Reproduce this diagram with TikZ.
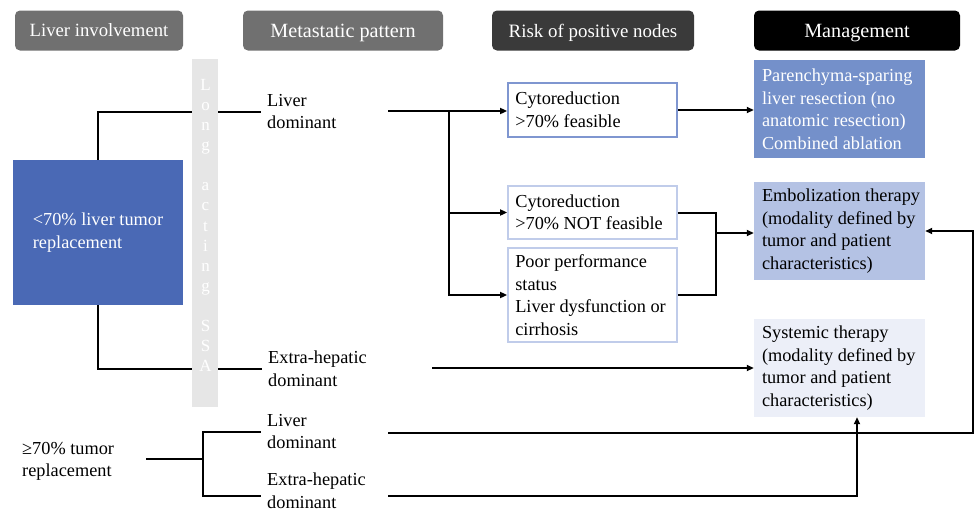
\documentclass[tikz,border=0pt]{standalone}
\usepackage{fontspec}
\setmainfont{Liberation Serif}
\usetikzlibrary{arrows.meta}
\definecolor{hgray}{HTML}{707070}
\definecolor{hdark}{HTML}{3A3A3A}
\definecolor{cblue}{HTML}{4A69B5}
\definecolor{cpar}{HTML}{7490CA}
\definecolor{cemb}{HTML}{B4C2E4}
\definecolor{csys}{HTML}{ECEFF8}
\definecolor{bordA}{HTML}{7F96D0}
\definecolor{bordB}{HTML}{C0CCEA}
\definecolor{cbar}{HTML}{E6E6E6}
\newcommand\txtfont{\fontsize{18.3}{22.5}\selectfont}
\tikzset{
  header/.style={rounded corners=5pt, text=white, minimum height=40pt, inner sep=0pt, text depth=0pt},
  plain/.style={font=\txtfont, align=left, anchor=north west, inner xsep=6pt, inner ysep=0pt},
  boxtxt/.style={font=\txtfont, align=left, anchor=west, inner xsep=0pt, inner ysep=0pt, xshift=8pt},
  riskA/.style={draw=bordA, line width=1.8pt, fill=white, minimum width=169pt, inner sep=0pt},
  riskB/.style={draw=bordB, line width=1.8pt, fill=white, minimum width=169pt, inner sep=0pt},
  mgmt/.style={minimum width=171pt, minimum height=98pt, inner sep=0pt},
  conn/.style={line width=2pt},
  arr/.style={line width=2pt, -{Triangle[length=7pt,width=6pt]}},
}
\begin{document}
\begin{tikzpicture}[x=1pt,y=-1pt]
\useasboundingbox (0,0) rectangle (974,512);
% headers
\node[header, fill=hgray, minimum width=168pt, font=\fontsize{18.7}{22}\selectfont] (h1) at (99,30.5) {Liver involvement};
\node[header, fill=hgray, minimum width=200pt, font=\fontsize{20.2}{22}\selectfont] (h2) at (343,30.5) {Metastatic pattern};
\node[header, fill=hdark, minimum width=202pt, font=\fontsize{18.9}{22}\selectfont] (h3) at (593,30.5) {Risk of positive nodes};
\node[header, fill=black, minimum width=206pt, font=\fontsize{20.2}{22}\selectfont] (h4) at (857,30.5) {Management};
% left box
\node[fill=cblue, text=white, font=\txtfont, align=left, minimum width=170pt, minimum height=145pt, inner sep=0pt] (blue) at (98,232.5) {<70\% liver tumor\\replacement};
\node[plain] (ge) at (16,442) {≥70\% tumor\\replacement};
% metastatic pattern texts
\node[plain] (ld1) at (261,94) {Liver\\dominant};
\node[plain] (eh1) at (262,351) {Extra-hepatic\\dominant};
\node[plain] (ld2) at (261,414) {Liver\\dominant};
\node[plain] (eh2) at (261,473) {Extra-hepatic\\dominant};
% risk boxes
\node[riskA, minimum height=54pt] (cf) at (592.5,110) {};
\node[boxtxt] (cft) at (cf.west) {Cytoreduction\\>70\% feasible};
\node[riskB, minimum height=53pt] (cnf) at (592.5,212.5) {};
\node[boxtxt] (cnft) at (cnf.west) {Cytoreduction\\>70\% NOT feasible};
\node[riskB, minimum height=94pt] (pp) at (592.5,295) {};
\node[boxtxt] (ppt) at (pp.west) {Poor performance\\status\\Liver dysfunction or\\cirrhosis};
% management boxes
\node[mgmt, fill=cpar] (par) at (839.5,109) {};
\node[boxtxt, text=white] (part) at (par.west) {Parenchyma-sparing\\liver resection (no\\anatomic resection)\\Combined ablation};
\node[mgmt, fill=cemb] (emb) at (839.5,231) {};
\node[boxtxt] (embt) at (emb.west) {Embolization therapy\\(modality defined by\\tumor and patient\\characteristics)};
\node[mgmt, fill=csys] (sys) at (839.5,368) {};
\node[boxtxt] (syst) at (sys.west) {Systemic therapy\\(modality defined by\\tumor and patient\\characteristics)};
% coordinates
\coordinate (ld1o) at (388,111);
\coordinate (split) at (449,111);
\coordinate (m) at (716,233);
\coordinate (eh1o) at (432,368);
\coordinate (g0) at (146,459);
\coordinate (g1) at (203,459);
\coordinate (ld2o) at (388,433);
\coordinate (r1) at (973,433);
\coordinate (eh2o) at (388,496);
\coordinate (r2) at (857,496);
% connectors
\draw[conn] (blue.north) |- (ld1.west);
\draw[conn] (blue.south) |- (eh1.west);
\draw[arr] (ld1o) -- (ld1o -| cf.west);
\draw[arr] (split) |- (cnf.west);
\draw[arr] (split) |- (pp.west);
\draw[arr] (cf.east) -- (cf.east -| par.west);
\draw[conn] (cnf.east) -| (m);
\draw[conn] (pp.east) -| (m);
\draw[arr] (m) -- (m -| emb.west);
\draw[arr] (eh1o) -- (eh1o -| sys.west);
\draw[conn] (g0) -- (g1);
\draw[conn] (g1) |- (ld2.west);
\draw[conn] (g1) |- (eh2.west |- eh2o);
\draw[arr] (ld2o) -- (r1) |- (emb.east);
\draw[arr] (eh2o) -- (r2) -- (r2 |- sys.south);
% SSA bar
\node[fill=cbar, minimum width=26pt, minimum height=348pt, inner sep=0pt] (bar) at (205,233) {};
\node[text=white, font=\fontsize{17}{20.1}\selectfont, align=center, anchor=north, inner sep=0pt] (bartxt) at (205.5,79) {L\\o\\n\\g\\[20.1pt]a\\c\\t\\i\\n\\g\\[20.1pt]S\\S\\A};
\end{tikzpicture}
\end{document}
